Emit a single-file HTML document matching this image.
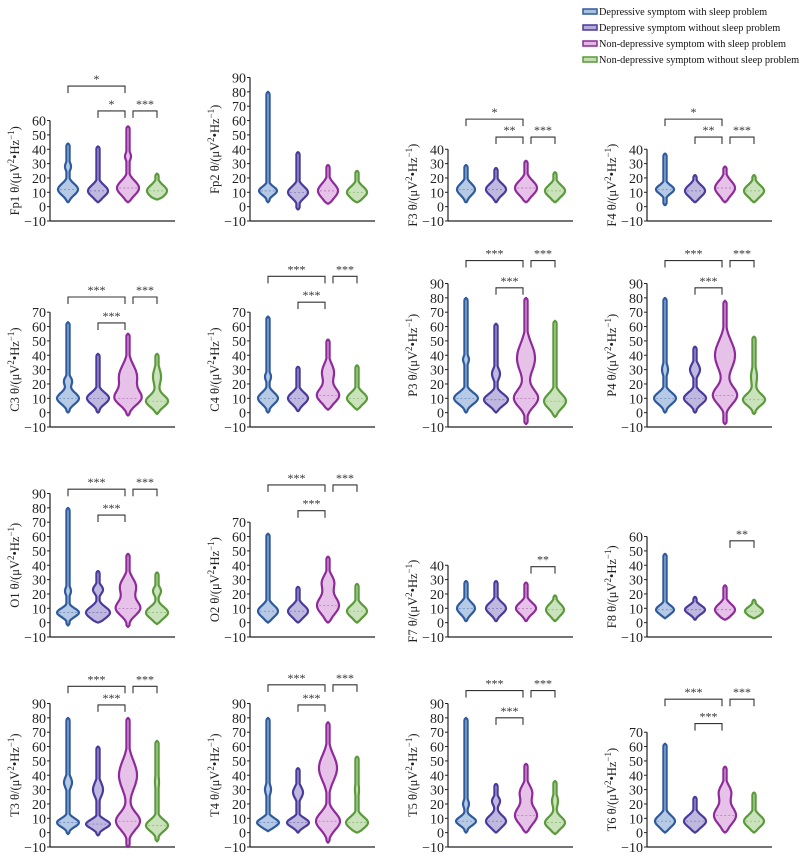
<!DOCTYPE html>
<html><head><meta charset="utf-8"><style>
html,body{margin:0;padding:0;background:#fff}
svg{display:block;font-family:"Liberation Serif",serif}
</style></head><body>
<svg id="chart" width="805" height="862" viewBox="0 0 805 862" xmlns="http://www.w3.org/2000/svg">
<g font-size="10.3" fill="#111">
<rect x="583" y="9" width="14" height="5" fill="#a9bfe0" stroke="#2e5a9e" stroke-width="1.5"/>
<text x="599" y="15">Depressive symptom with sleep problem</text>
<rect x="583" y="25" width="14" height="5" fill="#b4acd9" stroke="#4b3a9c" stroke-width="1.5"/>
<text x="599" y="31">Depressive symptom without sleep problem</text>
<rect x="583" y="41" width="14" height="5" fill="#e2b7e4" stroke="#8e2a9a" stroke-width="1.5"/>
<text x="599" y="47">Non-depressive symptom with sleep problem</text>
<rect x="583" y="57" width="14" height="5" fill="#c2deb0" stroke="#5a9a3a" stroke-width="1.5"/>
<text x="599" y="63">Non-depressive symptom without sleep problem</text>
</g>
</svg>
<script>
// channel names, grid positions, axis maxima
const channels = ["Fp1","Fp2","F3","F4","C3","C4","P3","P4","O1","O2","F7","F8","T3","T4","T5","T6"];
const yMaxTicks = [60,90,40,40,70,70,90,90,90,70,40,60,90,90,90,70];
// violin stats per channel: [min,max,mode,peakHalfWidth,sigma,(bump2Value,bump2Width,bump2Sigma)]
const groupBlue = [[3,44,12,10,4,28,3,3],[3,80,11,9,3],[3,29,12,9,4],[1,37,12,9,3],[0,63,10,11,4,22,4,3],[0,67,10,10,4,25,3,3],[0,80,10,12,4,37,3,3],[0,80,10,11,4,30,3,4],[-2,80,7,11,3,22,3,3],[0,62,8,10,4],[1,29,10,9,4],[3,48,9,9,3],[-1,80,7,11,3,35,4,4],[1,80,7,11,3,30,3,4],[0,80,8,10,3,20,3,3],[0,62,8,10,4]];
const groupPurple = [[3,42,11,10,4],[-2,38,10,10,4],[3,27,12,10,4],[3,22,11,10,4],[0,41,10,11,4],[1,32,10,10,4],[0,62,9,12,4,27,4,4],[0,46,10,11,4,30,5,4],[0,36,7,12,4,23,5,3],[0,25,8,10,4],[1,29,10,10,4],[2,18,9,10,3],[-2,60,6,12,3,30,5,5],[0,45,7,11,3,28,5,4],[0,34,8,10,4,22,4,3],[0,25,8,11,4]];
const groupMagenta = [[3,56,13,11,5,35,3,3],[2,29,11,10,5],[3,32,13,11,5],[3,28,13,10,5],[-2,55,10,12,5,25,9,8],[2,51,12,11,5,28,6,6],[-8,80,10,12,6,38,9,10],[-8,78,12,12,6,40,10,10],[-3,48,10,12,5,25,8,6],[0,46,12,11,6,28,6,5],[1,28,10,10,4],[2,26,9,10,4],[-10,80,8,12,6,40,9,10],[-7,77,8,12,6,45,9,9],[0,48,12,11,6,28,6,5],[0,46,12,11,6,28,6,5]];
const groupGreen = [[5,23,11,10,4],[3,25,10,10,4],[3,24,11,10,4],[3,22,11,10,4],[-1,41,8,11,4,25,4,6],[2,33,10,10,4],[-3,64,8,11,5],[-1,53,9,11,4,25,3,6],[-1,35,7,11,4,22,4,3],[0,27,8,10,4],[1,19,9,9,4],[3,16,8,9,3],[-6,64,5,11,4,35,2,6],[0,53,7,11,4,30,2,6],[-1,36,7,10,4,22,3,4],[0,28,8,10,4]];
// significance brackets per channel: [groupA, groupB, level (data units), label]
const brackets = [
 [[0,2,84,"*"],[1,2,66.7,"*"],[2,3,66.7,"***"]],
 [],
 [[0,2,61,"*"],[1,2,48.5,"**"],[2,3,48.5,"***"]],
 [[0,2,61,"*"],[1,2,48.5,"**"],[2,3,48.5,"***"]],
 [[0,2,80.6,"***"],[1,2,62.5,"***"],[2,3,80.6,"***"]],
 [[0,2,95,"***"],[1,2,77,"***"],[2,3,95,"***"]],
 [[0,2,106,"***"],[1,2,87,"***"],[2,3,106,"***"]],
 [[0,2,106,"***"],[1,2,87,"***"],[2,3,106,"***"]],
 [[0,2,93,"***"],[1,2,75,"***"],[2,3,93,"***"]],
 [[0,2,96,"***"],[1,2,78,"***"],[2,3,96,"***"]],
 [[2,3,39,"**"]],
 [[2,3,57,"**"]],
 [[0,2,102,"***"],[1,2,89,"***"],[2,3,102,"***"]],
 [[0,2,103,"***"],[1,2,89,"***"],[2,3,103,"***"]],
 [[0,2,99,"***"],[1,2,80,"***"],[2,3,99,"***"]],
 [[0,2,93,"***"],[1,2,76,"***"],[2,3,93,"***"]]
];
const yMin = -10;

const NS="http://www.w3.org/2000/svg";
const svg=document.getElementById('chart');
const colAxisX=[50,250,448,647];
const rowBottom=[221,427,637,847];
const pxPerUnit=1.435;
const centerOff=[18,48,78,107];
const strokes=["#2e5a9e","#4b3a9c","#8e2a9a","#5a9a3a"];
const fills=["#a9bfe0","#b4acd9","#e2b7e4","#c2deb0"];
const groupNames=["depressive-with-sleep","depressive-without-sleep","nondepressive-with-sleep","nondepressive-without-sleep"];
function mk(tag,attrs,parent){const e=document.createElementNS(NS,tag);for(const k in attrs)e.setAttribute(k,attrs[k]);parent.appendChild(e);return e;}

channels.forEach((ch,i)=>{
  const r=Math.floor(i/4),c=i%4;
  const ax=colAxisX[c],bot=rowBottom[r];
  const Y=v=>bot-(v-yMin)*pxPerUnit;
  const X=g=>ax+centerOff[g];
  const g=mk('g',{},svg);
  
  
  const top=Y(yMaxTicks[i]);
  const yaxis=mk('line',{x1:ax,y1:top,x2:ax,y2:bot,stroke:'#222','stroke-width':1.2},g);
  
  
  const xaxis=mk('line',{x1:ax,y1:bot,x2:ax+125,y2:bot,stroke:'#222','stroke-width':1.2},g);
  
  
  for(let v=yMin;v<=yMaxTicks[i];v+=10){
    const tk=mk('line',{x1:ax-3,y1:Y(v),x2:ax,y2:Y(v),stroke:'#222','stroke-width':1},g);
    
    
    const t=mk('text',{x:ax-4,y:Y(v)+5,'text-anchor':'end','font-size':14,fill:'#222'},g);
    t.textContent=v<0?'\u2212'+(-v):String(v);
    
    
  }
  const lab=mk('text',{x:0,y:0,'font-size':12.5,fill:'#222','text-anchor':'middle',transform:`translate(${ax-31},${(top+bot)/2}) rotate(-90)`},g);
  lab.innerHTML=ch+' \u03b8/(\u03bcV<tspan font-size="9" dy="-5">2</tspan><tspan dy="5">\u2022Hz</tspan><tspan font-size="9" dy="-5">\u22121</tspan><tspan dy="5">)</tspan>';
  
  
  const groups=[groupBlue[i],groupPurple[i],groupMagenta[i],groupGreen[i]];
  groups.forEach((s,gi)=>{
    const [mn,mx,mode,hw,sg,b2v,b2w,b2s]=s;
    const pts=[];const n=80;
    for(let k=0;k<=n;k++){
      const v=mn+(mx-mn)*k/n;
      let w=hw*Math.exp(-((v-mode)**2)/(2*sg*sg));
      if(b2v!==undefined)w+=b2w*Math.exp(-((v-b2v)**2)/(2*b2s*b2s));
      w=Math.max(w,1.6);
      const taper=Math.min(1,Math.sqrt(Math.min(v-mn,mx-v)/1.5));
      pts.push([v,w*taper]);
    }
    let d='';
    pts.forEach((p,k)=>{d+=(k?'L':'M')+(X(gi)+p[1]).toFixed(1)+','+Y(p[0]).toFixed(1);});
    for(let k=pts.length-1;k>=0;k--){d+='L'+(X(gi)-pts[k][1]).toFixed(1)+','+Y(pts[k][0]).toFixed(1);}
    d+='Z';
    const p=mk('path',{d,fill:fills[gi],'fill-opacity':0.85,stroke:strokes[gi],'stroke-width':2.2,'stroke-linejoin':'round'},g);
    
    
    const ml=mk('line',{x1:X(gi)-hw*0.8,y1:Y(mode),x2:X(gi)+hw*0.8,y2:Y(mode),stroke:strokes[gi],'stroke-width':0.7,'stroke-dasharray':'2,2',opacity:0.6},g);
    
    
  });
  brackets[i].forEach(b=>{
    const [a,bb,lv,txt]=b;
    const y=Y(lv);
    let xa=X(a),xb=X(bb);
    if(a===2){xa=X(a)+5;}
    if(bb===2){xb=X(bb)-3;}
    const br=mk('path',{d:`M${xa},${y+7}V${y}H${xb}V${y+7}`,fill:'none',stroke:'#333','stroke-width':1.1},g);
    
    
    const st=mk('text',{x:(xa+xb)/2,y:y-3,'text-anchor':'middle','font-size':12,fill:'#333'},g);
    st.textContent=txt;
    
    
  });
});
</script>
</body></html>
